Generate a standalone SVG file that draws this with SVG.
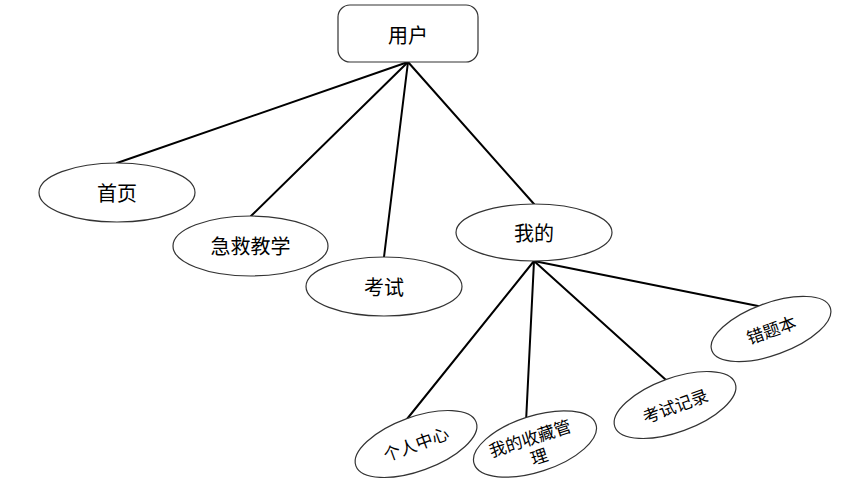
<svg xmlns="http://www.w3.org/2000/svg" width="854" height="480" viewBox="0 0 854 480">
<style>
.n{fill:#ffffff;stroke:#333333;stroke-width:1.2}
.t{font-family:"Noto Sans CJK SC","Noto Sans CJK JP",sans-serif;font-size:20px;fill:#000;text-anchor:middle;dominant-baseline:central}
.s{font-size:17px}
.c line{stroke:#000;stroke-width:2;stroke-linecap:round}
</style>
<rect width="854" height="480" fill="#ffffff"/>
<g class="c" id="connectors">
<line x1="408" y1="62" x2="117" y2="163"/>
<line x1="408" y1="62" x2="251" y2="216"/>
<line x1="408" y1="62" x2="384" y2="257"/>
<line x1="408" y1="62" x2="534" y2="204"/>
<line x1="534" y1="261" x2="407" y2="419"/>
<line x1="534" y1="261" x2="526" y2="422"/>
<line x1="534" y1="261" x2="666" y2="380"/>
<line x1="534" y1="261" x2="763" y2="307"/>
</g>
<g id="root">
<rect class="n" x="338" y="5" width="140" height="57" rx="12"/>
<text class="t" x="408" y="34">用户</text>
</g>
<g id="home">
<ellipse class="n" cx="117" cy="192.5" rx="78" ry="29.5"/>
<text class="t" x="117" y="192">首页</text>
</g>
<g id="firstaid">
<ellipse class="n" cx="250.5" cy="246" rx="77.5" ry="30"/>
<text class="t" x="250.5" y="245">急救教学</text>
</g>
<g id="exam">
<ellipse class="n" cx="384" cy="286.5" rx="78" ry="29.5"/>
<text class="t" x="384" y="286">考试</text>
</g>
<g id="mine">
<ellipse class="n" cx="534" cy="232.5" rx="78" ry="28.5"/>
<text class="t" x="534" y="232">我的</text>
</g>
<g id="profile" transform="translate(416,444) rotate(-20)">
<ellipse class="n" cx="0" cy="0" rx="64" ry="27"/>
<text class="t s" x="0" y="-1">个人中心</text>
</g>
<g id="favorites" transform="translate(535,444) rotate(-18)">
<ellipse class="n" cx="0" cy="0" rx="64" ry="28"/>
<text class="t s" x="-3" y="-8">我的收藏管</text>
<text class="t s" x="0" y="12">理</text>
</g>
<g id="records" transform="translate(675,405) rotate(-20)">
<ellipse class="n" cx="0" cy="0" rx="64" ry="27"/>
<text class="t s" x="0" y="0">考试记录</text>
</g>
<g id="mistakes" transform="translate(771,329) rotate(-20)">
<ellipse class="n" cx="0" cy="0" rx="63" ry="26"/>
<text class="t s" x="0" y="0">错题本</text>
</g>
</svg>
